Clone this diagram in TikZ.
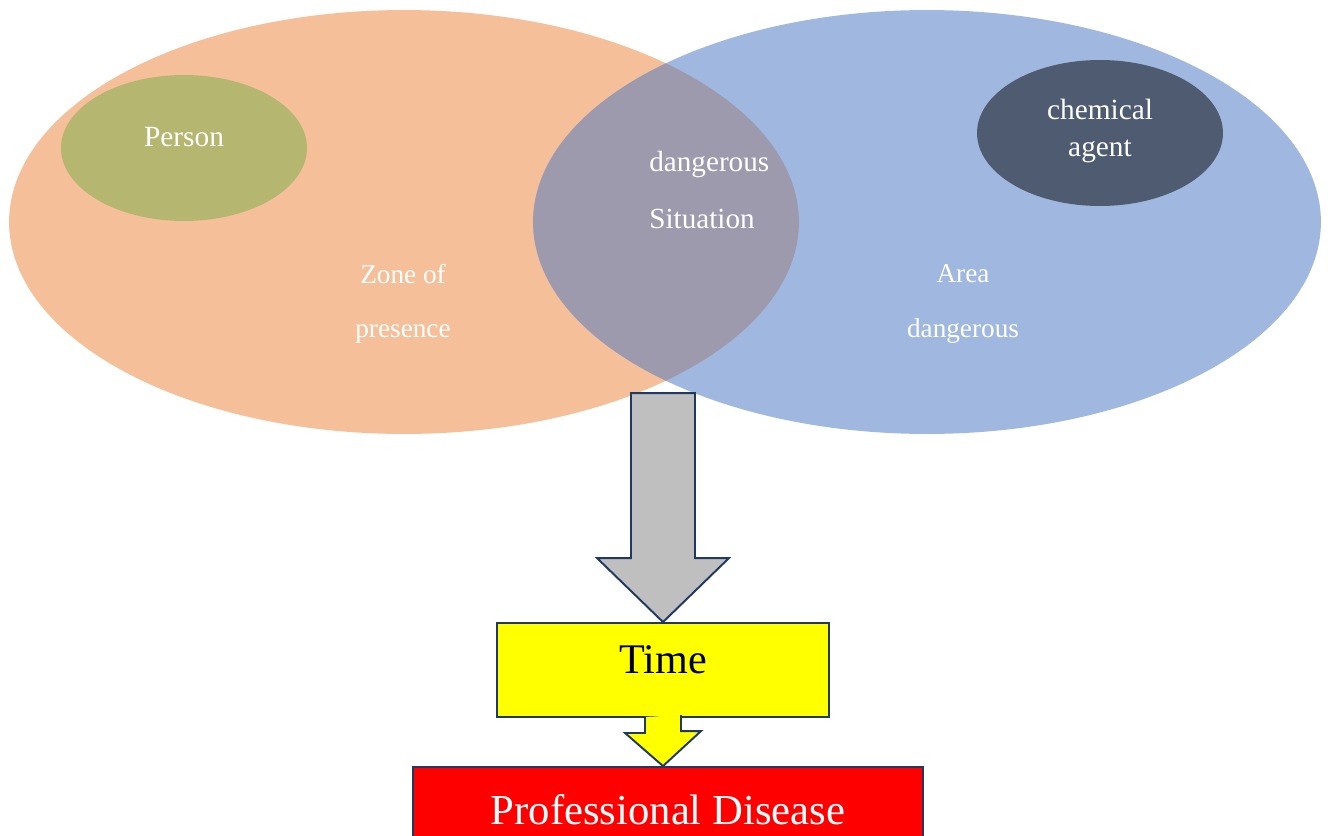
\documentclass[tikz,border=0pt]{standalone}
\usepackage{fontspec}
\setmainfont{Liberation Serif}
\usetikzlibrary{shapes.geometric,calc}

\definecolor{zonefill}{HTML}{F5BF99}
\definecolor{areafill}{HTML}{A0B8E0}
\definecolor{lensfill}{HTML}{9E9AAE}
\definecolor{personfill}{HTML}{B5B66F}
\definecolor{agentfill}{HTML}{4F5B70}
\definecolor{arrowgray}{HTML}{BFBFBF}
\definecolor{navy}{HTML}{1F3864}
\definecolor{timefill}{HTML}{FFFF00}

\begin{document}
\begin{tikzpicture}[x=0.02cm,y=-0.02cm,
    txt/.style={text=white,inner sep=0pt,font=\fontsize{16.7}{21}\selectfont},
    lowtxt/.style={text=white,inner sep=0pt,align=center,font=\fontsize{15.5}{31}\selectfont},
    blob/.style={ellipse,inner sep=0pt,minimum width=4.92cm,minimum height=2.92cm},
    outl/.style={draw=navy,line width=1.1pt},
    bigbox/.style={rectangle,outl,inner sep=0pt}]
  \useasboundingbox (0,0) rectangle (1328,835);

  % venn part
  \coordinate (zone) at (404,222);
  \coordinate (area) at (927,222);
  \fill[zonefill] (zone) ellipse [x radius=7.9cm, y radius=4.24cm];
  \fill[areafill] (area) ellipse [x radius=7.88cm, y radius=4.24cm];
  \begin{scope}
    \clip (zone) ellipse [x radius=7.9cm, y radius=4.24cm];
    \fill[lensfill] (area) ellipse [x radius=7.88cm, y radius=4.24cm];
  \end{scope}

  \node[blob,fill=personfill] (person) at (184,148) {};
  \node[blob,fill=agentfill] (agent) at (1100,133) {};
  \node[txt] (personlbl) at (184,137) {Person};
  \node[txt,align=center] (agentlbl) at (1100,131) {chemical\\agent};
  \node[txt,align=left,anchor=west,font=\fontsize{16.6}{32}\selectfont]
    (sitlbl) at (649,190) {dangerous\\Situation};
  \node[lowtxt] (zonelbl) at (403,304) {Zone of\\presence};
  \node[lowtxt] (arealbl) at (963,304) {Area\\dangerous};

  % boxes
  \node[bigbox,fill=timefill,minimum width=6.64cm,minimum height=1.88cm]
    (timebox) at (663,670) {};
  \node[inner sep=0pt,font=\fontsize{24}{28}\selectfont] (timelbl) at (663,660) {Time};
  \node[bigbox,fill=red,minimum width=10.2cm,minimum height=1.72cm,
    text=white,font=\fontsize{24.3}{28}\selectfont] (disease) at (668,810) {Professional Disease};

  % arrows
  \draw[outl,fill=arrowgray] ($(timebox.north)+(-32,-229)$) -- ++(64,0) -- ++(0,165)
    -- ++(34,0) -- (timebox.north) -- ++(-66,-64) -- ++(34,0) -- cycle;
  \draw[outl,fill=timefill] ($(timebox.south)+(-18,-1)$) -- ++(0,16) -- ++(-20,0)
    -- ($(disease.north)+(-5,0)$) -- ++(38,-35) -- ++(-20,0) -- ++(0,-16);
\end{tikzpicture}
\end{document}
